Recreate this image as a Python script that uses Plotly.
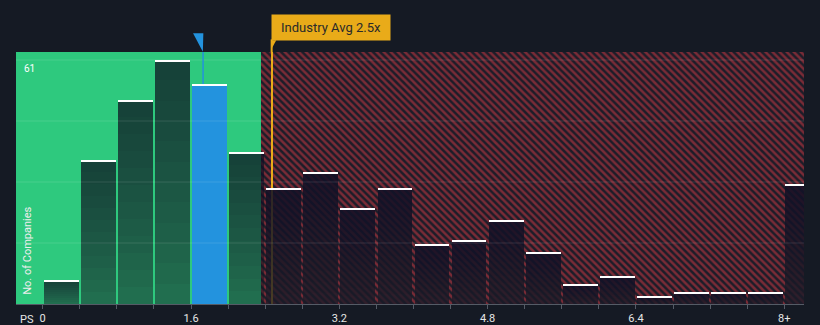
import plotly.graph_objects as go

# ---- data ----
bin_starts = [0.0, 0.4, 0.8, 1.2, 1.6, 2.0, 2.4, 2.8, 3.2, 3.6, 4.0, 4.4, 4.8,
              5.2, 5.6, 6.0, 6.4, 6.8, 7.2, 7.6, 8.0]
counts = [6, 36, 51, 61, 55, 38, 29, 33, 24, 29, 15, 16, 21, 13, 5, 7, 2, 3, 3, 3, 30]
tick_values = [0.0, 1.6, 3.2, 4.8, 6.4, 8.0]
tick_labels = ["0", "1.6", "3.2", "4.8", "6.4", "8+"]
company_ps = 1.73
industry_avg = 2.5
industry_line_x = 2.47
fair_split = 2.355
max_count = 61
bin_width = 0.4

# ---- styling ----
BG = "#151a24"
GREEN = "#2ec97e"
BLUE = "#2393de"
ORANGE = "#e9ab19"
X_MIN, X_MAX = -0.288, 8.213
Y_MAX = 63
BAR_W = 0.375

centers = [b + bin_width / 2 for b in bin_starts]
company_bin = max(i for i, b in enumerate(bin_starts) if b <= company_ps)

base_colors = []
for i, c in enumerate(centers):
    if i == company_bin:
        base_colors.append(BLUE)
    elif c < fair_split:
        base_colors.append("rgba(21,26,36,0.52)")
    else:
        base_colors.append("rgba(26,27,40,0.78)")

fig = go.Figure()

# hatched "overvalued" region (drawn as a wide background bar)
fig.add_trace(go.Bar(
    x=[(fair_split + X_MAX) / 2], y=[Y_MAX], width=[X_MAX - fair_split],
    marker=dict(color="#1d1e2a", line=dict(width=0),
                pattern=dict(shape="\\", fgcolor="#7a2b36", bgcolor="#1c1d29",
                             size=5, solidity=0.5, fillmode="replace")),
    showlegend=False, hoverinfo="skip",
))

# industry average line (inside plot, beneath the count bars)
fig.add_trace(go.Bar(
    x=[industry_line_x], y=[Y_MAX], width=[0.022],
    marker=dict(color=ORANGE, line=dict(width=0)), showlegend=False, hoverinfo="skip",
))

# bars (base layer)
fig.add_trace(go.Bar(
    x=centers, y=counts, width=BAR_W,
    marker=dict(color=base_colors, line=dict(width=0)),
    showlegend=False, hoverinfo="skip",
))
# vertical shading layers -> darker toward the top of each bar
N_LAYERS = 12
layer_colors = ["rgba(0,0,0,0)" if i == company_bin else "rgba(21,26,36,0.05)"
                for i in range(len(counts))]
for k in range(1, N_LAYERS):
    frac = k / N_LAYERS
    fig.add_trace(go.Bar(
        x=centers, y=[c * (1 - frac) for c in counts], base=[c * frac for c in counts],
        width=BAR_W, marker=dict(color=layer_colors, line=dict(width=0)),
        showlegend=False, hoverinfo="skip",
    ))

# white caps
cap = 0.45
fig.add_trace(go.Bar(
    x=centers, y=[cap] * len(counts), base=[c - cap for c in counts], width=BAR_W,
    marker=dict(color="#ffffff", line=dict(width=0)), showlegend=False, hoverinfo="skip",
))

shapes = []
# green region
shapes.append(dict(type="rect", xref="x", yref="paper", x0=X_MIN, x1=fair_split,
                   y0=0, y1=1, fillcolor=GREEN, line=dict(width=0), layer="below"))
# gridlines
for k in range(1, 5):
    yv = max_count * k / 4
    shapes.append(dict(type="line", xref="paper", yref="y", x0=0, x1=1, y0=yv, y1=yv,
                       line=dict(color="rgba(255,255,255,0.12)", width=1), layer="above"))
# industry line above plot
shapes.append(dict(type="line", xref="x", yref="paper", x0=industry_line_x, x1=industry_line_x,
                   y0=1, y1=1.05, line=dict(color=ORANGE, width=2), layer="above"))
# label tail
shapes.append(dict(type="path", xref="x", yref="paper",
                   path=f"M {industry_line_x-0.005} 1.047 L {industry_line_x+0.05} 1.047 L {industry_line_x-0.005} 1.01 Z",
                   fillcolor=ORANGE, line=dict(width=0), layer="above"))
# company marker
shapes.append(dict(type="line", xref="x", yref="y", x0=company_ps, x1=company_ps,
                   y0=counts[company_bin], y1=Y_MAX, line=dict(color=BLUE, width=1.5), layer="above"))
shapes.append(dict(type="path", xref="x", yref="paper",
                   path=f"M {company_ps-0.108} 1.074 L {company_ps+0.003} 1.074 L {company_ps-0.002} 1.001 Z",
                   fillcolor=BLUE, line=dict(width=0), layer="above"))

annotations = [
    dict(text="Industry Avg 2.5x", xref="x", yref="paper", x=industry_line_x - 0.01, y=1.045,
         xanchor="left", yanchor="bottom", showarrow=False, bgcolor=ORANGE,
         width=116, height=23, font=dict(family="Roboto", size=13, color="#2a2a2a")),
    dict(text="61", xref="paper", yref="y", x=6 / 788, y=59, xanchor="left", yanchor="middle",
         showarrow=False, font=dict(family="Roboto", size=10, color="#ffffff")),
    dict(text="No. of Companies", xref="paper", yref="y", x=12 / 788, y=13.3,
         xanchor="center", yanchor="middle", textangle=-90, showarrow=False,
         font=dict(family="Roboto", size=11, color="#eeeeee")),
    dict(text="PS", xref="paper", yref="paper", x=2 / 788, y=-15 / 252, xanchor="left",
         yanchor="middle", showarrow=False,
         font=dict(family="Roboto", size=11, color="#e6e6e6")),
]

edge_ticks = [round(0.4 * i, 1) for i in range(21)]
edge_text = []
for t in edge_ticks:
    lab = ""
    for tv, tl in zip(tick_values, tick_labels):
        if abs(tv - t) < 1e-6:
            lab = tl
    edge_text.append(lab)

fig.update_layout(
    width=820, height=325,
    margin=dict(l=16, r=16, t=52, b=21),
    paper_bgcolor=BG, plot_bgcolor=BG,
    barmode="overlay", bargap=0,
    shapes=shapes, annotations=annotations,
    xaxis=dict(range=[X_MIN, X_MAX], tickvals=edge_ticks, ticktext=edge_text,
               ticks="outside", ticklen=4, tickcolor="#555b66", showgrid=False,
               showline=True, linecolor="#555b66", linewidth=1, zeroline=False,
               tickfont=dict(family="Roboto", size=11, color="#e6e6e6"), automargin=False),
    yaxis=dict(range=[0, Y_MAX], showgrid=False, showticklabels=False, zeroline=False,
               showline=False, automargin=False),
    font=dict(family="Roboto"),
)

fig.write_html("out.html")
